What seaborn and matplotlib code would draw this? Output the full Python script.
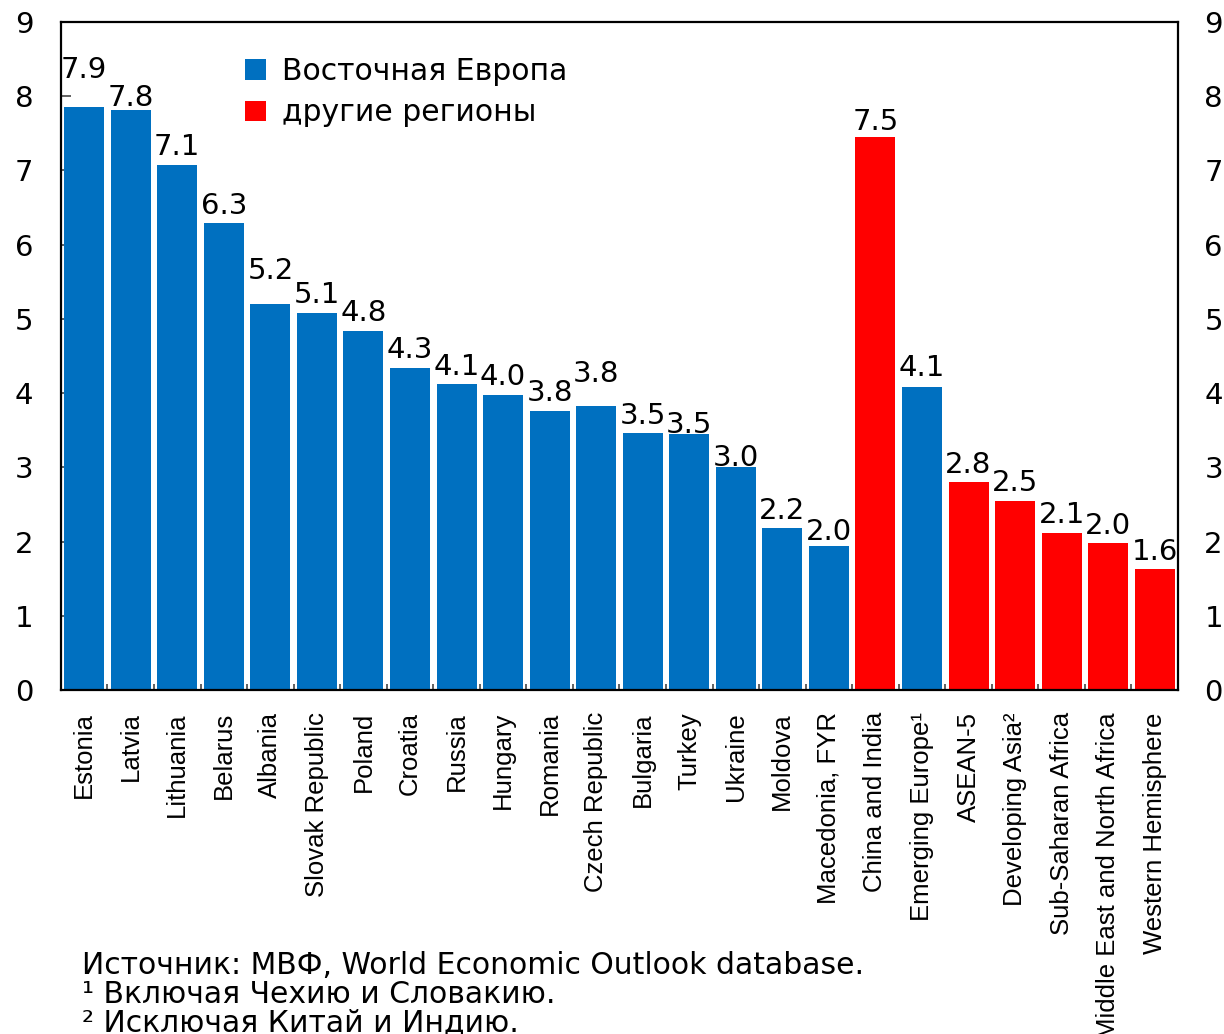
import matplotlib
matplotlib.use("Agg")
import matplotlib.pyplot as plt
import seaborn as sns
import pandas as pd

categories = [
    "Estonia", "Latvia", "Lithuania", "Belarus", "Albania", "Slovak Republic",
    "Poland", "Croatia", "Russia", "Hungary", "Romania", "Czech Republic",
    "Bulgaria", "Turkey", "Ukraine", "Moldova", "Macedonia, FYR",
    "China and India", "Emerging Europe¹", "ASEAN-5", "Developing Asia²",
    "Sub-Saharan Africa", "Middle East and North Africa", "Western Hemisphere",
]
values = [
    7.86, 7.82, 7.08, 6.29, 5.20, 5.08, 4.84, 4.34, 4.12, 3.98, 3.76, 3.83,
    3.46, 3.45, 3.01, 2.18, 1.94, 7.45, 4.08, 2.80, 2.55, 2.12, 1.98, 1.63,
]
value_labels = [
    "7.9", "7.8", "7.1", "6.3", "5.2", "5.1", "4.8", "4.3", "4.1", "4.0", "3.8", "3.8",
    "3.5", "3.5", "3.0", "2.2", "2.0", "7.5", "4.1", "2.8", "2.5", "2.1", "2.0", "1.6",
]
groups = ["Восточная Европа"] * 17 + ["другие регионы", "Восточная Европа"] + ["другие регионы"] * 5
group_order = ["Восточная Европа", "другие регионы"]
footnotes = [
    "Источник: МВФ, World Economic Outlook database.",
    "¹ Включая Чехию и Словакию.",
    "² Исключая Китай и Индию.",
]

BLUE = "#0070C0"
RED = "#FF0000"

# extra vertical shift (points) for some value labels, as in the original
label_lift = {"Estonia": 14, "Albania": 11.5, "Czech Republic": 10, "Latvia": -4,
              "Turkey": -6, "Ukraine": -6.5, "Macedonia, FYR": -2.5, "China and India": -1.5,
              "Emerging Europe¹": 1.5}

sns.set_style("ticks")
plt.rcParams["font.family"] = ["DejaVu Sans"]
plt.rcParams.update({"text.color": "black", "xtick.color": "black", "ytick.color": "black",
                     "axes.labelcolor": "black"})

df = pd.DataFrame({"category": categories, "value": values, "group": groups})

fig = plt.figure(figsize=(12.24, 10.34), dpi=100)
ax = fig.add_axes([0.0498, 0.3327, 0.9126, 0.646])

sns.barplot(data=df, x="category", y="value", hue="group", hue_order=group_order,
            palette=[BLUE, RED], dodge=False, width=0.86, saturation=1,
            edgecolor="none", ax=ax)

ax.set_ylim(0, 9)
ax.set_xlim(-0.5, len(categories) - 0.5)
ax.set_xlabel("")
ax.set_ylabel("")

for i, (cat, h, txt) in enumerate(zip(categories, values, value_labels)):
    ax.annotate(txt, (i, h), xytext=(0, 2.5 + label_lift.get(cat, 0)),
                textcoords="offset points", ha="center", va="bottom", fontsize=21)

for side in ["left", "right", "top", "bottom"]:
    ax.spines[side].set_visible(True)
    ax.spines[side].set_linewidth(1.6)
    ax.spines[side].set_color("black")

ax.set_yticks(range(10))
ax.tick_params(axis="y", direction="in", length=7, width=1.3, color="#555555",
               labelsize=21, pad=20, right=True, labelcolor="black")

ax.set_xticks(range(len(categories)))
ax.set_xticklabels(categories, rotation=90, ha="center", va="top")
ax.set_xticks([i + 0.5 for i in range(len(categories) - 1)], minor=True)
ax.tick_params(axis="x", which="major", length=0, pad=16, labelcolor="black")
ax.tick_params(axis="x", which="minor", direction="in", length=4, width=1.3, color="#555555")
for lab in ax.get_xticklabels():
    lab.set_fontfamily(["Liberation Sans", "DejaVu Sans"])
    lab.set_fontsize(18.5)

ax2 = ax.twinx()
ax2.set_ylim(0, 9)
ax2.set_yticks(range(10))
ax2.tick_params(axis="y", direction="in", length=0, labelsize=21, pad=19, labelcolor="black")
for side in ["left", "right", "top", "bottom"]:
    ax2.spines[side].set_visible(False)

handles, labels = ax.get_legend_handles_labels()
ax.legend(handles, labels, loc="upper left", bbox_to_anchor=(0.165, 0.948),
          frameon=False, fontsize=21.5, borderaxespad=0, borderpad=0,
          handlelength=0.68, handleheight=0.68, handletextpad=0.55, labelspacing=0.42)

for k, line in enumerate(footnotes):
    fig.text(0.067, 1 - (966 + 28.5 * k) / 1034, line, fontsize=21.5, va="center", ha="left")

fig.savefig("out.png", dpi=100)
